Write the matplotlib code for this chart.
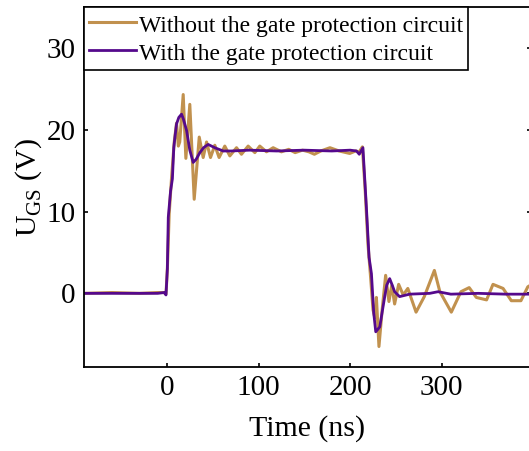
import matplotlib
matplotlib.use("Agg")
import matplotlib.pyplot as plt

plt.rcParams['font.family'] = ['Liberation Serif', 'DejaVu Serif']
plt.rcParams['mathtext.fontset'] = 'custom'
plt.rcParams['mathtext.rm'] = 'Liberation Serif'

# time (ns) and gate voltage (V)
t_without = [-90, -60, -30, -10, -3, -1, 0.5, 2.5, 5, 8, 10.5, 12.5, 14, 17.8, 20.7, 25, 29.8,
             35.3, 39.6, 43.3, 47.6, 52.3, 57, 63.2, 68.7, 76, 81.4, 88.7, 96, 101.4, 108.7, 116,
             125, 133, 140, 148, 155, 161, 168, 178, 188, 199.6, 206, 210, 213.4,
             216.5, 219.5, 222.5, 225, 227, 228.7, 231.5, 235, 238.8, 242.4, 245.5, 248.6, 253, 258,
             263, 272, 281, 292, 298, 310.5, 321, 330, 337.8, 349, 356, 367, 376, 386.5, 394, 400]
u_without = [0.0, 0.1, 0.0, 0.1, 0.1, -0.1, 3.0, 9.7, 14.0, 18.5, 20.8, 18.0, 18.5, 24.3, 16.5, 23.1, 11.5,
             19.1, 16.6, 18.5, 16.6, 18.1, 16.6, 18.0, 16.8, 17.8, 17.0, 18.0, 17.2, 18.0, 17.3, 17.8,
             17.3, 17.6, 17.2, 17.5, 17.3, 17.0, 17.4, 17.8, 17.4, 17.1, 17.4, 17.3, 17.9,
             12.5, 6.0, 1.8, -2.0, -3.0, -0.5, -6.5, -2.0, 2.2, -1.0, 1.0, -1.3, 1.1, -0.2,
             0.6, -2.3, -0.4, 2.8, 0.2, -2.3, 0.2, 0.7, -0.5, -0.8, 1.1, 0.6, -0.9, -0.9, 0.8, 1.2]

t_with = [-90, -60, -30, -10, -3, -1, 0.5, 1.5, 4, 6, 7.5, 9, 10.5, 13, 16, 18, 21.5, 25, 28.7,
          32, 36, 40, 45, 52.3, 61.4, 70, 90, 120, 150, 180, 200, 207, 210, 214, 217.8, 220.7,
          223.3, 225.8, 228, 232.4, 235, 237.8, 240, 243.2, 246, 248.6, 254, 265, 287, 296, 310, 340, 370, 400]
u_with = [0.0, 0.0, 0.0, 0.0, 0.1, -0.2, 3.0, 9.3, 12.5, 14.0, 17.8, 19.3, 20.7, 21.5, 21.9, 21.3, 19.9, 17.5, 16.0,
          16.4, 17.2, 17.8, 18.2, 17.8, 17.4, 17.4, 17.5, 17.4, 17.5, 17.4, 17.5, 17.4, 17.0, 17.8, 10.5, 4.4,
          2.4, -2.4, -4.7, -4.1, -2.3, -0.4, 1.0, 1.8, 1.0, 0.2, -0.4, -0.1, 0.0, 0.2, -0.1, 0.0, -0.1, -0.1]

x_ticks = [0, 100, 200, 300]
y_ticks = [0, 10, 20, 30]

fig = plt.figure(figsize=(5.29, 4.51), dpi=100)
ax = fig.add_axes([0.1588, 0.1863, 0.8450, 0.7982])

ax.plot(t_without, u_without, color='#C1914E', lw=2.2, label='Without the gate protection circuit')
ax.plot(t_with, u_with, color='#55098C', lw=2.0, label='With the gate protection circuit')

ax.set_xlim(-90.5, 397.5)
ax.set_ylim(-9, 35)
ax.set_xticks(x_ticks)
ax.set_yticks(y_ticks)
ax.tick_params(direction='in', length=3, width=1.2, labelsize=21, top=True, right=True, pad=6)
for s in ax.spines.values():
    s.set_linewidth(1.3)

ax.set_xlabel('Time (ns)', fontsize=21.5, labelpad=10)
ax.set_ylabel('U$_{\\mathrm{GS}}$ (V)', fontsize=21.5, labelpad=2)

leg = ax.legend(loc='upper left', borderaxespad=0, fontsize=17, fancybox=False,
                edgecolor='black', framealpha=1, handlelength=2.0, handletextpad=0.15,
                borderpad=0.2, labelspacing=0.1, handleheight=1.25)
leg.get_frame().set_linewidth(1.2)

fig.savefig('out.png', dpi=100)
